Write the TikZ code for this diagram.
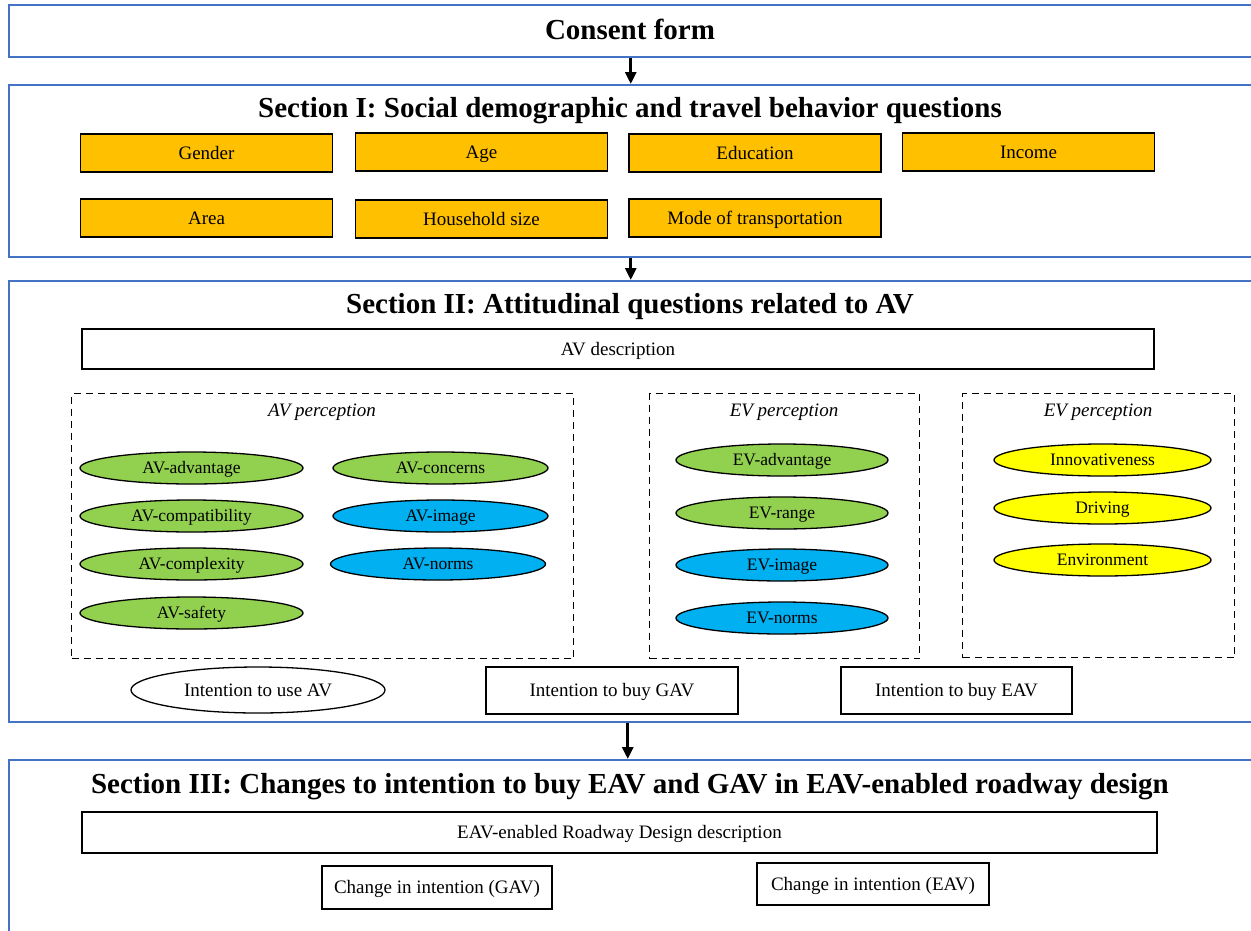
\documentclass[tikz,border=0pt]{standalone}
\usepackage{fontspec}
\setmainfont{Liberation Serif}
\usetikzlibrary{arrows.meta,shapes.geometric}
\definecolor{secblue}{HTML}{4472C4}
\definecolor{orangec}{HTML}{FFC000}
\definecolor{greenc}{HTML}{92D050}
\definecolor{bluec}{HTML}{00B0F0}
\definecolor{yellowc}{HTML}{FFFF00}
\begin{document}
\begin{tikzpicture}[x=1pt,y=-1pt,
  secbox/.style={draw=secblue, line width=1.5pt, rectangle, anchor=north west, inner sep=0pt},
  ttl/.style={font=\fontsize{29}{33}\selectfont\bfseries, inner sep=0pt, text height=19pt, text depth=0pt},
  obox/.style={draw=black, line width=1.4pt, fill=orangec, rectangle, minimum width=252pt, minimum height=38pt, inner sep=0pt, font=\fontsize{19}{22}\selectfont, text height=12.5pt, text depth=0pt},
  wbox/.style={draw=black, line width=1.4pt, fill=white, rectangle, inner sep=0pt, font=\fontsize{19}{22}\selectfont, text height=12.5pt, text depth=0pt},
  ell/.style={ellipse, draw=black, line width=1.3pt, minimum height=32pt, inner sep=0pt, font=\fontsize{17.5}{20}\selectfont, text height=11.5pt, text depth=0pt},
  dbox/.style={draw=black, line width=1.3pt, dash pattern=on 7pt off 5pt, rectangle, anchor=north west, inner sep=0pt},
  lbl/.style={font=\fontsize{19}{22}\selectfont\itshape, inner sep=0pt, text height=12.5pt, text depth=0pt},
  arr/.style={-{Triangle[length=12pt,width=11pt]}, line width=3pt}
]
\useasboundingbox (0,0) rectangle (1251,930);
\clip (0,0) rectangle (1251,930);

% section frames
\node[secbox, minimum width=1246pt, minimum height=52pt] (consent) at (8,4) {};
\node[ttl] (consentT) at (630,30) {Consent form};
\node[secbox, minimum width=1246pt, minimum height=172pt] (sec1) at (8,84) {};
\node[ttl] (sec1T) at (630,108) {Section I: Social demographic and travel behavior questions};
\node[secbox, minimum width=1246pt, minimum height=441pt] (sec2) at (8,280) {};
\node[ttl] (sec2T) at (630,304) {Section II: Attitudinal questions related to AV};
\node[secbox, minimum width=1246pt, minimum height=200pt] (sec3) at (8,759) {};
\node[ttl] (sec3T) at (630,784) {Section III: Changes to intention to buy EAV and GAV in EAV-enabled roadway design};

% section I items
\node[obox] (gender) at (206.5,153) {Gender};
\node[obox] (age) at (481.5,152) {Age};
\node[obox] (edu) at (755,153) {Education};
\node[obox] (income) at (1028.5,152) {Income};
\node[obox] (area) at (206.5,218) {Area};
\node[obox] (hh) at (481.5,219) {Household size};
\node[obox] (mode) at (755,218) {Mode of transportation};

% section II
\node[wbox, minimum width=1072pt, minimum height=40pt] (avdesc) at (618,349) {AV description};

\node[dbox, minimum width=502pt, minimum height=265pt] (avp) at (71,393) {};
\node[lbl] (avpL) at (322,410) {AV perception};
\node[dbox, minimum width=270pt, minimum height=265pt] (evp) at (649,393) {};
\node[lbl] (evpL) at (784,410) {EV perception};
\node[dbox, minimum width=272pt, minimum height=264pt] (evq) at (962,393) {};
\node[lbl] (evqL) at (1098,410) {EV perception};

\node[ell, fill=greenc, minimum width=223pt] (avadv) at (191.5,468) {AV-advantage};
\node[ell, fill=greenc, minimum width=223pt] (avcomp) at (191.5,516) {AV-compatibility};
\node[ell, fill=greenc, minimum width=223pt] (avcplx) at (191.5,564) {AV-complexity};
\node[ell, fill=greenc, minimum width=223pt] (avsafe) at (191.5,613) {AV-safety};
\node[ell, fill=greenc, minimum width=215pt] (avconc) at (440.5,468) {AV-concerns};
\node[ell, fill=bluec, minimum width=215pt] (avimg) at (440.5,516) {AV-image};
\node[ell, fill=bluec, minimum width=215pt] (avnorm) at (438,564) {AV-norms};

\node[ell, fill=greenc, minimum width=212pt] (evadv) at (782,460) {EV-advantage};
\node[ell, fill=greenc, minimum width=212pt] (evrange) at (782,513) {EV-range};
\node[ell, fill=bluec, minimum width=212pt] (evimg) at (782,565) {EV-image};
\node[ell, fill=bluec, minimum width=212pt] (evnorm) at (782,618) {EV-norms};

\node[ell, fill=yellowc, minimum width=217pt] (innov) at (1102.5,460) {Innovativeness};
\node[ell, fill=yellowc, minimum width=217pt] (driving) at (1102.5,508) {Driving};
\node[ell, fill=yellowc, minimum width=217pt] (env) at (1102.5,560) {Environment};

\node[ell, fill=white, minimum width=254pt, minimum height=46pt, font=\fontsize{19}{22}\selectfont, text height=12.5pt] (useav) at (258,690) {Intention to use AV};
\node[wbox, minimum width=252pt, minimum height=47pt] (buygav) at (612,690.5) {Intention to buy GAV};
\node[wbox, minimum width=231pt, minimum height=47pt] (buyeav) at (956.5,690.5) {Intention to buy EAV};

% section III
\node[wbox, minimum width=1075pt, minimum height=41pt] (rddesc) at (619.5,832.5) {EAV-enabled Roadway Design description};
\node[wbox, minimum width=230pt, minimum height=43pt] (chgav) at (437,887.5) {Change in intention (GAV)};
\node[wbox, minimum width=232pt, minimum height=42pt] (cheav) at (873,884) {Change in intention (EAV)};

% arrows
\draw[arr] ([xshift=-1pt]consent.south) -- ([xshift=-1pt]sec1.north);
\draw[arr] ([xshift=-1pt]sec1.south) -- ([xshift=-1pt]sec2.north);
\draw[arr] ([xshift=-4pt]sec2.south) -- ([xshift=-4pt]sec3.north);
\end{tikzpicture}
\end{document}
